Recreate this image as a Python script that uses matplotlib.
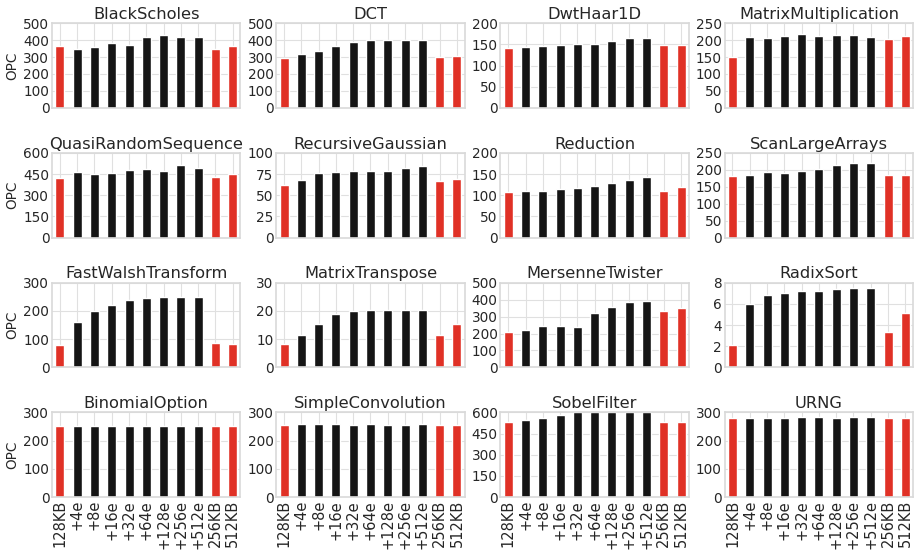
import matplotlib
matplotlib.use("Agg")
import matplotlib.pyplot as plt
import seaborn as sns

configs = ["128KB", "+4e", "+8e", "+16e", "+32e", "+64e", "+128e", "+256e", "+512e", "256KB", "512KB"]
baseline = ["128KB", "256KB", "512KB"]

benchmarks = [
    "BlackScholes", "DCT", "DwtHaar1D", "MatrixMultiplication",
    "QuasiRandomSequence", "RecursiveGaussian", "Reduction", "ScanLargeArrays",
    "FastWalshTransform", "MatrixTranspose", "MersenneTwister", "RadixSort",
    "BinomialOption", "SimpleConvolution", "SobelFilter", "URNG",
]

opc = {
    "BlackScholes": [367, 349, 361, 384, 373, 420, 431, 420, 420, 349, 367],
    "DCT": [296, 320, 337, 367, 390, 402, 402, 402, 402, 302, 308],
    "DwtHaar1D": [142, 144, 147, 149, 151, 151, 158, 165, 165, 149, 149],
    "MatrixMultiplication": [151, 210, 207, 213, 219, 213, 216, 216, 210, 204, 213],
    "QuasiRandomSequence": [419, 468, 449, 461, 482, 489, 475, 511, 496, 426, 447],
    "RecursiveGaussian": [61.6, 67.5, 75.7, 78, 79.2, 79.2, 79.2, 81.6, 85, 66.3, 68.6],
    "Reduction": [106.7, 109, 111, 113.7, 116, 120.8, 127.8, 135, 142, 109, 118.4],
    "ScanLargeArrays": [183, 186, 195, 192, 198, 201, 213, 221.5, 221.5, 186, 186],
    "FastWalshTransform": [79, 160.6, 199.5, 221, 238.5, 245.6, 249, 249, 249, 86, 82.6],
    "MatrixTranspose": [8.3, 11.5, 15.3, 18.9, 20, 20.3, 20.3, 20.3, 20.3, 11.5, 15.3],
    "MersenneTwister": [209, 220, 244, 244, 238, 321, 356, 386, 392, 333, 350],
    "RadixSort": [2.1, 6.0, 6.8, 7.0, 7.2, 7.2, 7.4, 7.5, 7.5, 3.3, 5.1],
    "BinomialOption": [251, 251, 251, 251, 251, 251, 251, 251, 251, 251, 251],
    "SimpleConvolution": [255, 259, 259, 259, 255, 259, 255, 255, 259, 255, 255],
    "SobelFilter": [532, 546, 560, 581, 600, 600, 600, 600, 600, 532, 532],
    "URNG": [280, 280, 280, 280, 283.5, 283.5, 280, 283.5, 283.5, 280, 280],
}

# y axis: (top, tick step)
yaxis = {
    "BlackScholes": (500, 100), "DCT": (500, 100), "DwtHaar1D": (200, 50),
    "MatrixMultiplication": (250, 50), "QuasiRandomSequence": (600, 150),
    "RecursiveGaussian": (100, 25), "Reduction": (200, 50), "ScanLargeArrays": (250, 50),
    "FastWalshTransform": (300, 100), "MatrixTranspose": (30, 10),
    "MersenneTwister": (500, 100), "RadixSort": (8, 2), "BinomialOption": (300, 100),
    "SimpleConvolution": (300, 100), "SobelFilter": (600, 150), "URNG": (300, 100),
}

sns.set_style("whitegrid", {"grid.color": ".88", "axes.edgecolor": ".85"})
plt.rcParams["font.family"] = ["DejaVu Sans"]

RED = "#e03126"
BLACK = "#151515"
colors = [RED if c in baseline else BLACK for c in configs]

fig, axes = plt.subplots(4, 4, figsize=(9.14, 5.5), dpi=100)
fig.subplots_adjust(left=0.057, right=0.999, top=0.958, bottom=0.096,
                    wspace=0.19, hspace=0.53)

for i, name in enumerate(benchmarks):
    ax = axes[i // 4][i % 4]
    x = range(len(configs))
    ax.bar(x, opc[name], width=0.52, color=colors, zorder=2)
    top, step = yaxis[name]
    ax.set_ylim(0, top)
    ax.set_yticks([step * k for k in range(int(round(top / step)) + 1)])
    ax.set_xlim(-0.45, 10.45)
    ax.set_xticks(list(x))
    if i // 4 == 3:
        ax.set_xticklabels(configs, rotation=90)
    else:
        ax.set_xticklabels([])
    ax.tick_params(axis="y", labelsize=9.8, pad=2, length=0)
    ax.tick_params(axis="x", labelsize=10.5, pad=2, length=0)
    ax.set_title(name, fontsize=11.7, pad=3)
    if i % 4 == 0:
        ax.set_ylabel("OPC", fontsize=9.8, labelpad=3)
    for s in ax.spines.values():
        s.set_linewidth(1.2)

fig.savefig("out.png", dpi=100)
